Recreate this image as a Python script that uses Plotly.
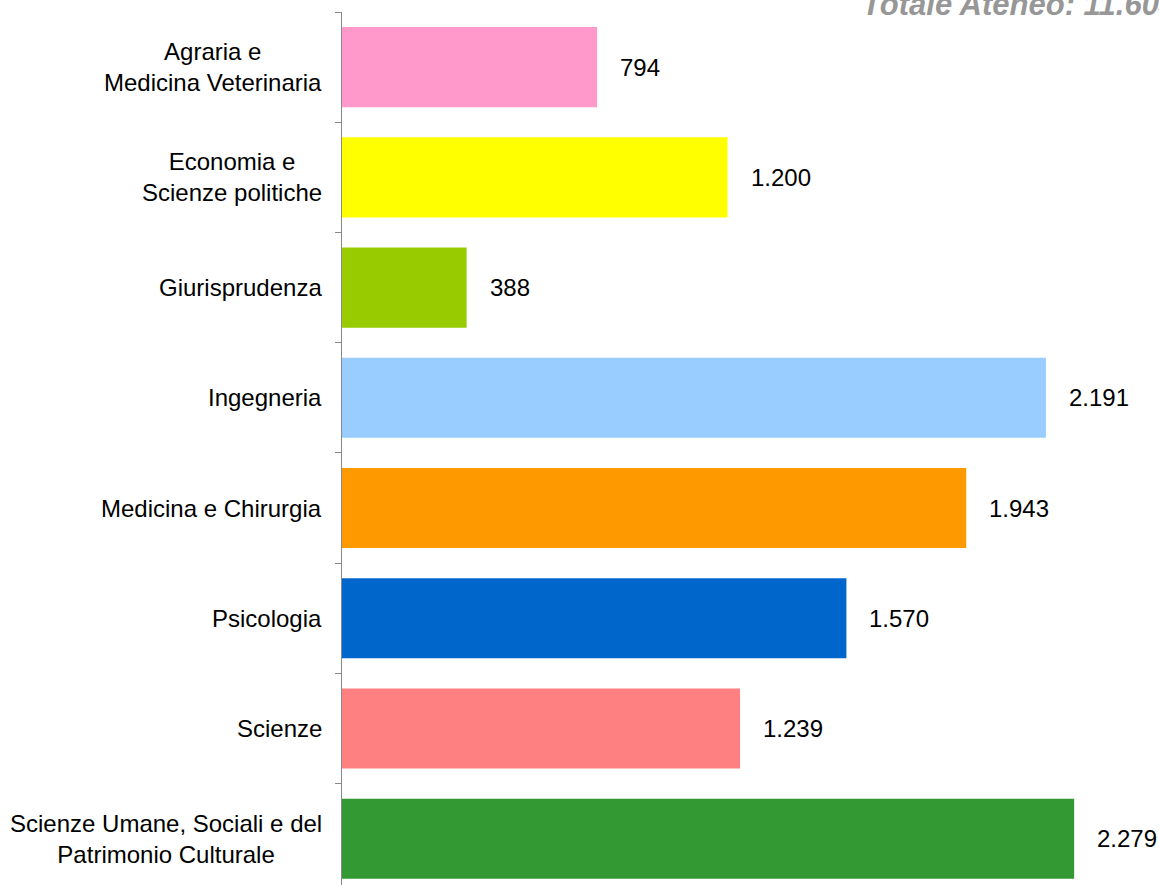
import plotly.graph_objects as go

# Dati: iscritti per area
categories = [
    "Agraria e<br>Medicina Veterinaria",
    "Economia e<br>Scienze politiche",
    "Giurisprudenza",
    "Ingegneria",
    "Medicina e Chirurgia",
    "Psicologia",
    "Scienze",
    "Scienze Umane, Sociali e del<br>Patrimonio Culturale",
]
values = [794, 1200, 388, 2191, 1943, 1570, 1239, 2279]
colors = ["#FF99CC", "#FFFF00", "#99CC00", "#99CCFF",
          "#FF9900", "#0066CC", "#FF8080", "#339933"]


def fmt(v):
    # separatore delle migliaia all'italiana
    return f"{v:,}".replace(",", ".")


total_label = "Totale Ateneo: " + fmt(sum(values))

fig = go.Figure()
fig.add_trace(go.Bar(
    x=values,
    y=categories,
    orientation="h",
    marker=dict(color=colors, line=dict(width=0)),
    width=0.727,
    hoverinfo="skip",
))

font_main = dict(family="Liberation Sans, Arial, sans-serif", size=24, color="#000000")

# etichette dei valori a destra delle barre
for cat, v in zip(categories, values):
    fig.add_annotation(
        x=v, y=cat, xref="x", yref="y",
        text=fmt(v), showarrow=False,
        xanchor="left", yanchor="middle", xshift=21,
        font=font_main,
    )

# etichette delle categorie (centrate, anche su due righe)
for cat in categories:
    fig.add_annotation(
        x=0, y=cat, xref="paper", yref="y",
        text=cat, showarrow=False, align="center",
        xanchor="right", yanchor="middle", xshift=-18,
        font=font_main,
    )

# titolo in alto a destra, tagliato come nell'originale
fig.add_annotation(
    x=0.6340, y=1.0085, xref="paper", yref="paper",
    text=f"<b><i>{total_label}</i></b>", showarrow=False,
    xanchor="left", yanchor="middle",
    font=dict(family="Liberation Sans, Arial, sans-serif", size=31, color="#979797"),
)

n = len(categories)
fig.update_yaxes(
    categoryorder="array", categoryarray=categories,
    range=[n - 0.5 - 0.08, -0.5],
    showticklabels=False,
    ticks="outside", tickson="boundaries", ticklen=6,
    tickcolor="#888888", tickwidth=1,
    showline=True, linecolor="#888888", linewidth=1,
    showgrid=False, zeroline=False,
)
fig.update_xaxes(
    range=[0, 2543], visible=False, showgrid=False, zeroline=False,
)

fig.update_layout(
    width=1159, height=885,
    margin=dict(l=342, r=0, t=12, b=0),
    plot_bgcolor="white", paper_bgcolor="white",
    showlegend=False,
)

# niente margine di pagina, così il grafico parte dall'angolo in alto a sinistra
fig.write_html(
    "out.html",
    config={"displayModeBar": False},
    post_script="document.body.style.margin='0';",
)
